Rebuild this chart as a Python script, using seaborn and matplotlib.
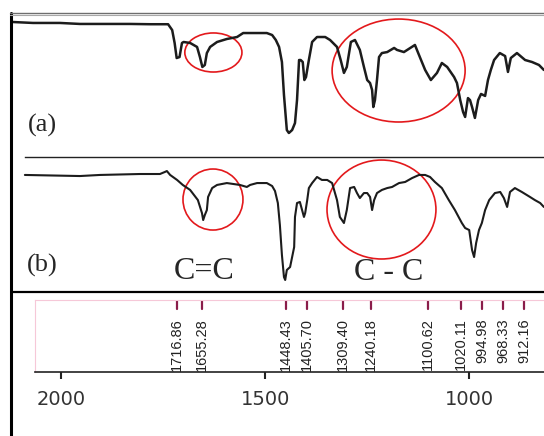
import matplotlib
matplotlib.use("Agg")
import matplotlib.pyplot as plt
import seaborn as sns
import numpy as np
from matplotlib.patches import Ellipse
from matplotlib.lines import Line2D

# spectrum (a)  wavenumber (cm-1) / transmittance (%)
wn_a = [2121, 2069, 2003, 1954, 1831, 1782, 1738, 1728, 1722, 1717, 1710, 1704, 1700,
        1684, 1667, 1660, 1654, 1648, 1643, 1635, 1618, 1594, 1569, 1554, 1530, 1513,
        1496, 1483, 1474, 1466, 1459, 1454, 1451, 1447, 1442, 1434, 1427, 1422, 1417,
        1413, 1408, 1404, 1400, 1393, 1385, 1373, 1353, 1341, 1324, 1315, 1307, 1300,
        1290, 1280, 1268, 1258, 1250, 1243, 1238, 1235, 1231, 1226, 1221, 1214, 1201,
        1184, 1177, 1160, 1133, 1121, 1108, 1094, 1079, 1067, 1054, 1037, 1030, 1022,
        1015, 1010, 1003, 998, 993, 986, 978, 971, 961, 954, 947, 939, 925, 912, 905,
        898, 883, 863, 846, 829, 817]
t_a = [95.1, 94.4, 94.4, 93.7, 93.7, 93.5, 93.5, 89.4, 80.3, 69.7, 70.4, 80.3, 81.0,
       80.3, 77.5, 70.4, 63.4, 64.8, 73.2, 77.5, 81.0, 83.1, 84.5, 87.3, 87.3, 87.3,
       87.3, 85.9, 82.4, 77.5, 66.9, 43.7, 33.1, 19.0, 16.9, 19.0, 23.9, 40.1, 68.3,
       68.3, 66.9, 54.2, 56.3, 68.3, 81.0, 84.5, 84.5, 82.4, 77.5, 68.3, 59.2, 63.4,
       81.0, 82.4, 75.4, 63.4, 54.2, 52.1, 47.2, 35.2, 40.1, 54.2, 70.4, 73.2, 73.9,
       76.8, 75.4, 73.9, 78.9, 70.4, 61.3, 54.2, 59.2, 66.2, 63.4, 56.3, 52.1, 40.1,
       31.7, 28.2, 41.5, 40.1, 35.2, 27.5, 40.1, 44.4, 43.0, 54.2, 61.3, 68.3, 73.2,
       71.1, 59.9, 69.7, 73.2, 68.3, 66.9, 64.8, 61.3]

# spectrum (b)
wn_b = [2089, 1954, 1905, 1807, 1758, 1746, 1741, 1733, 1716, 1702, 1684, 1665, 1655,
        1652, 1648, 1643, 1640, 1630, 1618, 1594, 1562, 1545, 1537, 1520, 1496, 1483,
        1476, 1469, 1464, 1459, 1454, 1451, 1447, 1439, 1429, 1427, 1422, 1415, 1405,
        1402, 1397, 1393, 1385, 1373, 1361, 1348, 1336, 1324, 1317, 1307, 1300, 1292,
        1282, 1275, 1268, 1258, 1250, 1243, 1238, 1233, 1226, 1214, 1201, 1189, 1172,
        1157, 1140, 1123, 1108, 1096, 1084, 1067, 1050, 1035, 1018, 1010, 1000, 993,
        988, 983, 976, 969, 961, 951, 937, 924, 915, 907, 900, 888, 871, 851, 839, 826, 817]
t_b = [86.7, 85.9, 86.7, 87.4, 87.4, 88.9, 89.6, 86.7, 83.0, 79.3, 75.6, 68.1, 58.5,
       53.3, 57.0, 60.7, 70.4, 77.0, 79.3, 80.7, 79.3, 77.8, 79.3, 80.7, 80.7, 78.5,
       74.8, 65.9, 49.6, 27.4, 11.1, 8.9, 16.3, 18.5, 33.3, 55.6, 65.9, 66.7, 55.6,
       58.5, 68.1, 77.0, 80.7, 85.2, 83.0, 83.0, 80.7, 68.1, 55.6, 51.1, 60.7, 77.0,
       77.8, 73.3, 69.6, 73.3, 73.3, 70.4, 60.7, 68.1, 73.3, 75.6, 77.0, 77.8, 80.7,
       81.5, 84.4, 86.7, 86.7, 85.2, 81.5, 77.0, 68.1, 60.7, 51.1, 47.4, 45.9, 31.1,
       25.9, 36.3, 45.9, 51.1, 60.7, 68.1, 73.3, 74.1, 69.6, 63.0, 74.1, 77.0, 74.1,
       70.4, 68.1, 65.9, 63.0]

peaks = [1716.86, 1655.28, 1448.43, 1405.70, 1309.40, 1240.18, 1100.62,
         1020.11, 994.98, 968.33, 912.16]

# circled regions: centre wn, centre T, width, height
circles_a = [(1627, 73.6, 140, 27.5), (1173, 60.9, 326, 72.5)]
circles_b = [(1628, 68.5, 147, 45.2), (1215, 61.1, 267, 73.3)]

W, H = 544, 436


def wn(px):
    return 2150 - px / 0.408


def box(x0, y0, x1, y1):
    return [x0 / W, 1 - y1 / H, (x1 - x0) / W, (y1 - y0) / H]


sns.set_style("white")
fig = plt.figure(figsize=(5.44, 4.36), dpi=100)

ax_a = fig.add_axes(box(12, 15, 544, 157))
ax_b = fig.add_axes(box(12, 157, 544, 292))
ax_p = fig.add_axes(box(35, 300, 544, 372))

for ax, x, y, lw in [(ax_a, wn_a, t_a, 1.8), (ax_b, wn_b, t_b, 1.5)]:
    sns.lineplot(x=x, y=y, ax=ax, color="#1c1c1c", linewidth=lw, sort=False,
                 estimator=None)
    ax.set_xlim(wn(12), wn(544))
    ax.set_ylim(0, 100)
    ax.set_xticks([])
    ax.set_yticks([])
    ax.set_xlabel("")
    ax.set_ylabel("")
    for s in ax.spines.values():
        s.set_visible(False)
    ax.patch.set_alpha(0)

for ax, circ in [(ax_a, circles_a), (ax_b, circles_b)]:
    for cx, cy, w, h in circ:
        ax.add_patch(Ellipse((cx, cy), w, h, fill=False, edgecolor="#e3191c",
                             linewidth=1.2, clip_on=False))

# separators
ax_b.spines["top"].set_visible(True)
ax_b.spines["top"].set_color("#222222")
ax_b.spines["top"].set_linewidth(1.0)
ax_b.spines["top"].set_bounds(wn(25), wn(544))
ax_b.spines["bottom"].set_visible(True)
ax_b.spines["bottom"].set_color("black")
ax_b.spines["bottom"].set_linewidth(1.6)

serif = ["Liberation Serif", "DejaVu Serif"]
ax_a.text(wn(42), 22.5, "(a)", fontsize=19, family=serif, ha="center", va="center")
ax_b.text(wn(42), 20, "(b)", fontsize=19, family=serif, ha="center", va="center")
ax_b.text(wn(204), 15.5, "C=C", fontsize=23, family=serif, ha="center", va="center")
ax_b.text(wn(389), 14.5, "C - C", fontsize=23, family=serif, ha="center", va="center")

# peak table axis
ax_p.set_xlim(wn(35), wn(544))
ax_p.set_ylim(0, 1)
ax_p.set_yticks([])
ax_p.set_xticks([2000, 1500, 1000])
ax_p.tick_params(axis="x", direction="out", length=5, width=1.5, pad=8,
                 labelsize=14, labelcolor="#333333", color="#222222", bottom=True)
ax_p.spines["right"].set_visible(False)
ax_p.spines["bottom"].set_color("#222222")
ax_p.spines["bottom"].set_linewidth(1.2)
ax_p.spines["top"].set_color("#f6c8d8")
ax_p.spines["left"].set_color("#f6c8d8")
ax_p.patch.set_alpha(0)

# spread crowded labels apart (min 51.5 cm-1 between them)
pos = []
for p in sorted(peaks, reverse=True):
    if pos and pos[-1] - p < 51.5:
        pos.append(pos[-1] - 51.5)
    else:
        pos.append(p)
for p, x in zip(sorted(peaks, reverse=True), pos):
    ax_p.plot([x, x], [1.0, 0.875], color="#8a1c4a", linewidth=1.6)
    ax_p.text(x, 0.75, f"{p:.2f}", rotation=90, ha="center", va="top",
              fontsize=10.5, family=["Liberation Sans", "DejaVu Sans"],
              color="#222222")

# frame lines
fig.add_artist(Line2D([11 / W, 11 / W], [0, 1 - 13 / H], transform=fig.transFigure,
                      color="black", linewidth=2.2))
fig.add_artist(Line2D([10 / W, 1], [1 - 13.5 / H, 1 - 13.5 / H], transform=fig.transFigure,
                      color="#6e6e6e", linewidth=1.0))
fig.add_artist(Line2D([10 / W, 1], [1 - 15.5 / H, 1 - 15.5 / H], transform=fig.transFigure,
                      color="#a8a8a8", linewidth=0.8))

fig.savefig("out.png", dpi=100)
